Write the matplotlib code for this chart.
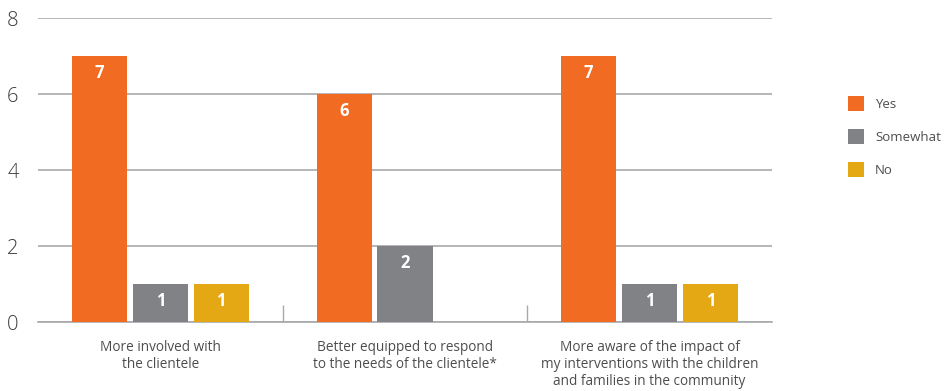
import matplotlib
matplotlib.use("Agg")
import matplotlib.pyplot as plt
import numpy as np

plt.rcParams['font.family'] = ['Open Sans', 'DejaVu Sans']

categories = [
    "More involved with\nthe clientele",
    "Better equipped to respond\nto the needs of the clientele*",
    "More aware of the impact of\nmy interventions with the children\nand families in the community",
]
series_names = ["Yes", "Somewhat", "No"]
yes_vals = [7, 6, 7]
somewhat_vals = [1, 2, 1]
no_vals = [1, 0, 1]
colors = ["#F26B22", "#818285", "#E3A814"]
yticks = [0, 2, 4, 6, 8]

fig = plt.figure(figsize=(9.49, 3.91), dpi=100)
ax = fig.add_axes([38 / 949, 1 - 322 / 391, (772 - 38) / 949, (322 - 18) / 391])

x = np.arange(len(categories))
width = 0.225
step = 0.249
text_grey = "#4d4d4f"

for i, (name, vals, col) in enumerate(zip(series_names, [yes_vals, somewhat_vals, no_vals], colors)):
    offs = (i - 1) * step
    for xi, v in zip(x, vals):
        if v <= 0:
            continue
        ax.bar(xi + offs, v, width=width, color=col, zorder=3)
        ax.text(xi + offs, v - 0.2, str(v), ha="center", va="top", color="white",
                fontsize=12, fontweight="bold", zorder=4)
    # legend proxy
    ax.bar(0, 0, width=0, color=col, label=name)

ax.set_xlim(-0.5, len(categories) - 0.5)
ax.set_ylim(0, 8)
ax.set_yticks(yticks)
ax.set_yticklabels([str(t) for t in yticks], fontsize=14.5, color="#3a3a3a", fontweight="light")
ax.yaxis.grid(True, color="#a7a9ac", linewidth=1.2, zorder=0)
ax.set_axisbelow(True)
ax.tick_params(axis="y", length=0, pad=14)

ax.set_xticks(x)
ax.set_xticklabels(categories, fontsize=9.8, color=text_grey, linespacing=1.2)
ax.tick_params(axis="x", length=0, pad=13)
ax.set_xticks([0.5, 1.5], minor=True)
ax.tick_params(axis="x", which="minor", direction="in", length=12, width=1, color="#a7a9ac")

for s in ["top", "right", "left"]:
    ax.spines[s].set_visible(False)
ax.spines["bottom"].set_color("#a7a9ac")
ax.spines["bottom"].set_linewidth(1.2)

leg = fig.legend(loc="upper left", bbox_to_anchor=(836 / 949, 1 - 84 / 391), frameon=False,
                 fontsize=9.5, handlelength=1.25, handleheight=1.4, handletextpad=0.8,
                 labelspacing=1.35, labelcolor=text_grey)

fig.savefig("out.png", dpi=100)
